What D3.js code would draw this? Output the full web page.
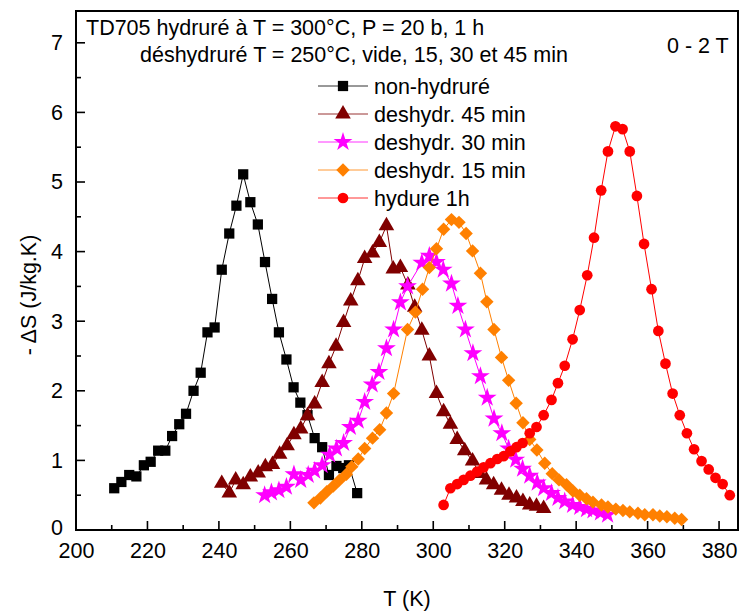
<!DOCTYPE html>
<html>
<head>
<meta charset="utf-8">
<script src="https://cdn.jsdelivr.net/npm/d3@7"></script>
<style>
  html, body { margin: 0; padding: 0; background: #fff; }
  svg { display: block; font-family: "Liberation Sans", Arial, sans-serif; }
</style>
</head>
<body>
<svg id="chart" width="747" height="611"></svg>
<script>
// ---- data ----
const xTicks = [200, 220, 240, 260, 280, 300, 320, 340, 360, 380];
const yTicks = [0, 1, 2, 3, 4, 5, 6, 7];

const seriesNames = ["non-hydruré", "deshydr. 45 min", "deshydr. 30 min", "deshydr. 15 min", "hydure 1h"];
const seriesColors = ["#000000", "#800000", "#ff00ff", "#ff8000", "#ff0000"];

const nonHydT = [210.7,212.7,214.9,216.9,219.0,220.9,223.0,225.0,226.9,228.9,230.8,232.9,234.9,236.8,238.8,240.8,242.9,244.9,246.8,248.8,250.9,252.9,254.9,256.8,258.9,260.9,262.8,264.8,266.8,268.9,270.8,272.9,274.8,276.4,278.7];
const nonHydV = [0.60,0.69,0.79,0.77,0.93,0.98,1.14,1.14,1.35,1.52,1.67,2.00,2.26,2.84,2.91,3.74,4.26,4.66,5.11,4.71,4.39,3.85,3.32,2.84,2.45,2.05,1.83,1.65,1.32,1.19,0.79,0.92,0.89,0.93,0.53];

const d45T = [240.8,242.9,244.7,246.8,248.8,251.0,253.0,255.0,257.0,259.1,261.0,262.9,264.8,266.8,268.9,270.8,272.8,274.9,276.9,278.9,280.8,283.0,284.9,286.9,288.8,290.8,292.9,294.8,296.8,298.9,300.9,302.9,304.8,306.7,308.8,311.0,313.0,314.9,316.9,319.1,321.2,323.3,325.1,327.0,328.9,330.9];
const d45V = [0.67,0.53,0.72,0.65,0.76,0.82,0.91,0.94,1.09,1.21,1.37,1.45,1.64,1.81,2.12,2.39,2.64,2.98,3.29,3.58,3.90,3.98,4.13,4.37,3.75,3.77,3.52,3.20,2.87,2.50,1.96,1.70,1.52,1.30,1.14,0.99,0.81,0.72,0.65,0.57,0.50,0.46,0.41,0.36,0.34,0.31];

const d30T = [252.8,254.7,256.8,258.9,261.0,262.9,265.0,266.8,268.9,271.0,272.9,274.9,276.8,279.0,280.8,282.9,284.8,286.9,288.9,290.8,292.8,296.8,298.9,300.9,302.8,305.1,306.9,309.0,311.1,313.2,315.1,317.0,319.2,321.1,323.1,325.0,327.0,329.1,330.9,333.1,334.9,336.8,339.0,341.0,342.9,344.7,346.8,348.8];
const d30V = [0.50,0.54,0.57,0.62,0.80,0.72,0.79,0.85,0.93,1.08,1.17,1.25,1.48,1.57,1.84,2.09,2.27,2.61,2.88,3.27,3.50,3.84,3.94,3.85,3.74,3.54,3.22,2.88,2.54,2.21,1.90,1.60,1.39,1.17,1.01,0.88,0.78,0.68,0.60,0.53,0.46,0.41,0.36,0.33,0.30,0.28,0.25,0.22];

const d15T = [266.6,268.4,270.2,272.0,273.8,275.7,277.2,279.0,280.8,283.0,285.0,286.9,288.9,292.8,295.0,297.0,298.9,300.9,302.9,305.1,307.2,309.2,311.0,313.2,315.0,317.0,319.1,321.1,323.2,325.1,327.0,329.0,331.2,333.3,335.2,337.3,339.1,341.0,342.9,344.7,347.1,348.9,351.1,353.1,355.0,357.3,359.2,361.5,363.4,365.4,367.6,369.5];
const d15V = [0.39,0.46,0.55,0.63,0.72,0.80,0.91,1.02,1.17,1.32,1.44,1.68,1.96,2.88,3.13,3.46,3.77,4.04,4.32,4.46,4.42,4.26,4.01,3.69,3.28,2.88,2.48,2.15,1.82,1.54,1.30,1.15,0.96,0.81,0.72,0.65,0.56,0.50,0.45,0.40,0.36,0.33,0.30,0.28,0.26,0.24,0.22,0.22,0.20,0.19,0.17,0.15];

const hydT = [302.9,304.8,306.7,308.5,310.4,312.3,314.1,316.0,317.9,319.7,321.6,323.3,325.0,327.0,328.9,330.9,333.1,334.9,336.8,339.0,341.0,343.1,345.0,347.0,348.9,351.0,353.0,355.0,357.0,359.0,361.1,363.0,365.0,367.0,369.0,371.0,373.0,375.1,377.1,379.0,381.0,383.0];
const hydV = [0.36,0.60,0.66,0.72,0.78,0.84,0.90,0.96,1.02,1.06,1.13,1.19,1.25,1.39,1.48,1.65,1.87,2.11,2.36,2.74,3.16,3.66,4.20,4.88,5.44,5.80,5.76,5.44,4.80,4.11,3.46,2.86,2.39,1.96,1.65,1.39,1.16,0.99,0.87,0.75,0.66,0.50];

const titleLine1 = "TD705 hydruré à T = 300°C, P = 20 b, 1 h";
const titleLine2 = "déshydruré T = 250°C, vide, 15, 30 et 45 min";
const fieldLabel = "0 - 2 T";
const xLabel = "T (K)";
const yLabel = "- ΔS (J/kg.K)";

// ---- build ----
const seriesT = [nonHydT, d45T, d30T, d15T, hydT];
const seriesV = [nonHydV, d45V, d30V, d15V, hydV];
const symbols = [d3.symbolSquare, d3.symbolTriangle, d3.symbolStar, d3.symbolSquare, d3.symbolCircle];
const symSizes = [105, 105, 110, 90, 90];
const symRot = [0, 0, 0, 45, 0];

const svg = d3.select("#chart");
const L = 76, R = 738, T = 11, B = 530;
const x = d3.scaleLinear().domain([200, 385.3]).range([L, R]);
const y = d3.scaleLinear().domain([0, 7.457]).range([B, T]);

const fontSize = 21.5;
const ff = "Liberation Sans, Arial, sans-serif";

// frame
svg.append("rect").attr("x", L).attr("y", T).attr("width", R - L).attr("height", B - T)
  .attr("fill", "none").attr("stroke", "#000").attr("stroke-width", 2);

// x axis
const xMinor = d3.range(210, 385, 20);
const gx = svg.append("g").attr("transform", `translate(0,${B})`);
gx.call(d3.axisBottom(x).tickValues(xTicks).tickSize(0).tickPadding(13).tickFormat(d3.format("d")));
gx.select(".domain").remove();
gx.selectAll("text").attr("font-size", fontSize).attr("fill", "#000").attr("font-family", ff);
svg.append("g").selectAll("line").data(xTicks).join("line")
  .attr("x1", d => x(d)).attr("x2", d => x(d)).attr("y1", B).attr("y2", B - 9)
  .attr("stroke", "#000").attr("stroke-width", 1.6);
svg.append("g").selectAll("line").data(xMinor).join("line")
  .attr("x1", d => x(d)).attr("x2", d => x(d)).attr("y1", B).attr("y2", B - 5)
  .attr("stroke", "#000").attr("stroke-width", 1.6);

// y axis
const yMinor = d3.range(0.5, 7.5, 1);
const gy = svg.append("g").attr("transform", `translate(${L},0)`);
gy.call(d3.axisLeft(y).tickValues(yTicks).tickSize(0).tickPadding(13).tickFormat(d3.format("d")));
gy.select(".domain").remove();
gy.selectAll("text").attr("font-size", fontSize).attr("fill", "#000").attr("font-family", ff);
gy.selectAll(".tick").filter(d => d === 0).select("text").attr("dy", "0.2em");
svg.append("g").selectAll("line").data(yTicks).join("line")
  .attr("x1", L).attr("x2", L + 9).attr("y1", d => y(d)).attr("y2", d => y(d))
  .attr("stroke", "#000").attr("stroke-width", 1.6);
svg.append("g").selectAll("line").data(yMinor).join("line")
  .attr("x1", L).attr("x2", L + 5).attr("y1", d => y(d)).attr("y2", d => y(d))
  .attr("stroke", "#000").attr("stroke-width", 1.6);

// axis titles
svg.append("text").attr("x", 407).attr("y", 606).attr("text-anchor", "middle")
  .attr("font-size", fontSize).text(xLabel);
svg.append("text").attr("transform", `translate(36,295) rotate(-90)`)
  .attr("text-anchor", "middle").attr("font-size", fontSize).text(yLabel);

// series
const line = d3.line().x(d => x(d[0])).y(d => y(d[1]));
seriesT.forEach((ts, i) => {
  const pts = ts.map((t, j) => [t, seriesV[i][j]]);
  const g = svg.append("g");
  g.append("path").datum(pts).attr("d", line).attr("fill", "none")
    .attr("stroke", seriesColors[i]).attr("stroke-width", 1);
  const sym = d3.symbol().type(symbols[i]).size(symSizes[i]);
  g.selectAll("path.m").data(pts).join("path").attr("class", "m")
    .attr("d", sym)
    .attr("transform", d => `translate(${x(d[0])},${y(d[1])}) rotate(${symRot[i]})`)
    .attr("fill", seriesColors[i]);
});

// title texts
svg.append("text").attr("x", 86).attr("y", 35).attr("font-size", fontSize).text(titleLine1);
svg.append("text").attr("x", 140).attr("y", 62).attr("font-size", fontSize).text(titleLine2);
svg.append("text").attr("x", 667).attr("y", 53).attr("font-size", fontSize).text(fieldLabel);

// legend
const legY0 = 86, legDy = 28;
seriesNames.forEach((name, i) => {
  const ly = legY0 + i * legDy;
  const g = svg.append("g");
  g.append("line").attr("x1", 318).attr("x2", 368).attr("y1", ly).attr("y2", ly)
    .attr("stroke", seriesColors[i]).attr("stroke-width", 1).attr("opacity", 0.8);
  g.append("path").attr("d", d3.symbol().type(symbols[i]).size(symSizes[i])())
    .attr("transform", `translate(343,${ly}) rotate(${symRot[i]})`)
    .attr("fill", seriesColors[i]);
  g.append("text").attr("x", 374).attr("y", ly + 7.5).attr("font-size", fontSize).text(name);
});
</script>
</body>
</html>
